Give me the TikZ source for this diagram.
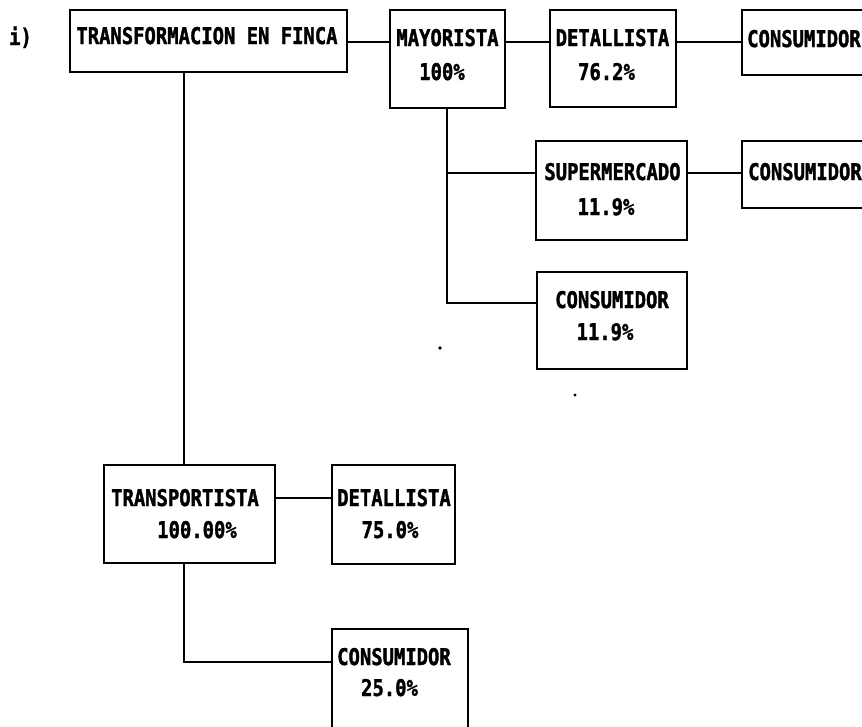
\documentclass[tikz,border=0pt]{standalone}
\usepackage{fontspec}
\newfontfamily\dotfont{DejaVu Sans Mono}[FakeStretch=0.82,BoldFeatures={FakeBold=1.5}]
\begin{document}
\begin{tikzpicture}[x=1pt,y=-1pt,
  box/.style={draw,line width=2.8pt,rectangle,anchor=north west,inner sep=0pt,outer sep=0pt},
  lbl/.style={anchor=base,inner sep=0pt,font=\dotfont\bfseries\fontsize{23}{27}\selectfont},
  conn/.style={line width=2.8pt}]
\useasboundingbox (0,0) rectangle (862,726);
\clip (0,0) rectangle (862,726);
% boxes
\node[box,minimum width=277pt,minimum height=62pt] (A) at (70,10) {};
\node[box,minimum width=115pt,minimum height=98pt] (B) at (390,10) {};
\node[box,minimum width=126pt,minimum height=97pt] (C) at (550,10) {};
\node[box,minimum width=150pt,minimum height=65pt] (D) at (742,10) {};
\node[box,minimum width=151pt,minimum height=99pt] (E) at (536,141) {};
\node[box,minimum width=150pt,minimum height=67pt] (F) at (742,141) {};
\node[box,minimum width=150pt,minimum height=97pt] (G) at (537,272) {};
\node[box,minimum width=171pt,minimum height=98pt] (H) at (104,465) {};
\node[box,minimum width=123pt,minimum height=99pt] (I) at (332,465) {};
\node[box,minimum width=136pt,minimum height=130pt] (J) at (332,629) {};
% labels
\node[lbl] (ti) at (20.5,45) {i)};
\node[lbl] (tA) at (207,44) {TRANSFORMACION EN FINCA};
\node[lbl] (tB1) at (447.5,46) {MAYORISTA};
\node[lbl] (tB2) at (442,80) {100\%};
\node[lbl] (tC1) at (612.5,46) {DETALLISTA};
\node[lbl] (tC2) at (606.5,80) {76.2\%};
\node[lbl] (tD) at (804,47) {CONSUMIDOR};
\node[lbl] (tE1) at (612.5,180) {SUPERMERCADO};
\node[lbl] (tE2) at (606,215) {11.9\%};
\node[lbl] (tF) at (805,180) {CONSUMIDOR};
\node[lbl] (tG1) at (612,308) {CONSUMIDOR};
\node[lbl] (tG2) at (605,340) {11.9\%};
\node[lbl] (tH1) at (185,506) {TRANSPORTISTA};
\node[lbl] (tH2) at (197,538) {100.00\%};
\node[lbl] (tI1) at (394,506) {DETALLISTA};
\node[lbl] (tI2) at (390,538) {75.0\%};
\node[lbl] (tJ1) at (394,665) {CONSUMIDOR};
\node[lbl] (tJ2) at (389.5,696) {25.0\%};
% connectors
\coordinate (yTop) at (0,42);
\draw[conn] (A.east |- yTop) -- (B.west |- yTop);
\draw[conn] (B.east |- yTop) -- (C.west |- yTop);
\draw[conn] (C.east |- yTop) -- (D.west |- yTop);
\coordinate (xA) at (184,0);
\draw[conn] (A.south -| xA) -- (H.north -| xA);
\coordinate (xB) at (447,0);
\coordinate (yE) at (0,173);
\coordinate (yG) at (0,303);
\draw[conn] (B.south -| xB) -- (xB |- yG) -- (G.west |- yG);
\draw[conn] (xB |- yE) -- (E.west |- yE);
\draw[conn] (E.east |- yE) -- (F.west |- yE);
\coordinate (yH) at (0,498);
\draw[conn] (H.east |- yH) -- (I.west |- yH);
\coordinate (yJ) at (0,662);
\draw[conn] (H.south -| xA) -- (xA |- yJ) -- (J.west |- yJ);
% specks
\fill (440,348) circle (1.8);
\fill (575,395) circle (1.6);
\end{tikzpicture}
\end{document}
